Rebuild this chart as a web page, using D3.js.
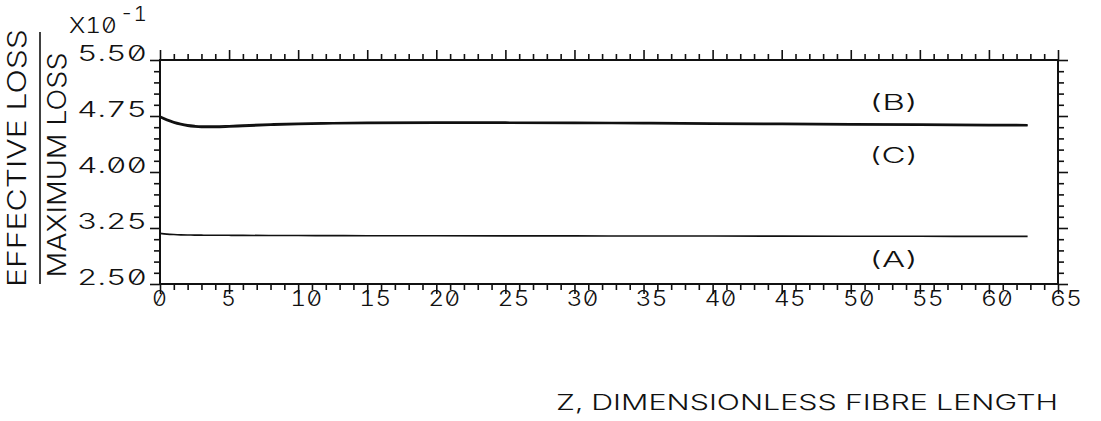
<!DOCTYPE html>
<html>
<head>
<meta charset="utf-8">
<script src="https://cdn.jsdelivr.net/npm/d3@7"></script>
<style>
  html, body { margin: 0; padding: 0; background: #fff; }
  svg { display: block; }
  text { font-family: Inter, "DejaVu Sans", sans-serif; font-feature-settings: "zero" 1, "tnum" 1; fill: #111; font-weight: 300; }
</style>
</head>
<body>
<script>
// ---- data (values in units of 10^-1) ----
const zValues = [0, 0.5, 1, 1.5, 2, 2.5, 3, 4, 5, 6, 8, 10, 12.5, 15, 20, 25, 30, 35, 40, 45, 50, 55, 60, 62.8];
const seriesB = [4.745, 4.705, 4.672, 4.648, 4.630, 4.620, 4.614, 4.613, 4.619, 4.627, 4.641, 4.652, 4.659, 4.663, 4.666, 4.666, 4.664, 4.660, 4.655, 4.650, 4.645, 4.640, 4.635, 4.632];
const seriesC = [4.735, 4.692, 4.658, 4.633, 4.615, 4.604, 4.599, 4.598, 4.604, 4.612, 4.627, 4.639, 4.647, 4.651, 4.654, 4.654, 4.652, 4.648, 4.643, 4.638, 4.633, 4.628, 4.623, 4.620];
const seriesA = [3.178, 3.168, 3.162, 3.158, 3.156, 3.155, 3.154, 3.153, 3.152, 3.151, 3.150, 3.149, 3.148, 3.147, 3.146, 3.145, 3.144, 3.143, 3.142, 3.141, 3.140, 3.139, 3.138, 3.138];
const curveLabels = ["(B)", "(C)", "(A)"];
const curveLabelZ = [53.1, 53.1, 53.1];
const curveLabelY = [4.83, 4.12, 2.73];
const xTickValues = [0, 5, 10, 15, 20, 25, 30, 35, 40, 45, 50, 55, 60, 65];
const yTickValues = [2.50, 3.25, 4.00, 4.75, 5.50];
const yTickLabels = ["2.50", "3.25", "4.00", "4.75", "5.50"];
const yTitleTop = "EFFECTIVE LOSS";
const yTitleBottom = "MAXIMUM LOSS";
const xTitle = "Z, DIMENSIONLESS FIBRE LENGTH";
const scaleText = "X10";
const scaleExp = "-1";

// ---- layout ----
const W = 1101, H = 421;
const L = 160, R = 1058, T = 60, B = 284;

const svg = d3.select("body").append("svg").attr("width", W).attr("height", H);
svg.append("rect").attr("width", W).attr("height", H).attr("fill", "#fff");

const x = d3.scaleLinear().domain([0, 65]).range([L, R]);
const y = d3.scaleLinear().domain([2.5, 5.5]).range([B, T]);

const xMinor = d3.range(0, 66, 1).filter(v => v % 5 !== 0);
const yMinor = d3.range(0, 21).filter(i => i % 5 !== 0).map(i => 2.5 + i * 0.15);

function stretch(sel, total) {
  sel.attr("textLength", total).attr("lengthAdjust", "spacingAndGlyphs");
}

function axisStyle(g) {
  g.select(".domain").remove();
  g.selectAll(".tick line").attr("stroke", "#111").attr("stroke-width", 1.6);
}

// minor + major ticks on all four sides
svg.append("g").attr("transform", `translate(0,${B})`)
  .call(d3.axisBottom(x).tickValues(xMinor).tickSize(6).tickFormat("")).call(axisStyle);
svg.append("g").attr("transform", `translate(0,${T})`)
  .call(d3.axisTop(x).tickValues(xMinor).tickSize(6).tickFormat("")).call(axisStyle);
svg.append("g").attr("transform", `translate(0,${T})`)
  .call(d3.axisTop(x).tickValues(xTickValues).tickSize(10).tickFormat("")).call(axisStyle);
svg.append("g").attr("transform", `translate(${L},0)`)
  .call(d3.axisLeft(y).tickValues(yMinor).tickSize(6).tickFormat("")).call(axisStyle);
svg.append("g").attr("transform", `translate(${R},0)`)
  .call(d3.axisRight(y).tickValues(yMinor).tickSize(6).tickFormat("")).call(axisStyle);
svg.append("g").attr("transform", `translate(${R},0)`)
  .call(d3.axisRight(y).tickValues(yTickValues).tickSize(10).tickFormat("")).call(axisStyle);

// bottom axis with labels
const gx = svg.append("g").attr("transform", `translate(0,${B})`)
  .call(d3.axisBottom(x).tickValues(xTickValues).tickSize(10).tickFormat(d => String(d)));
axisStyle(gx);
gx.selectAll(".tick text")
  .attr("font-size", 22).attr("text-anchor", "start")
  .attr("x", -8.5).attr("y", 22).attr("dy", 0)
  .attr("font-family", null).attr("fill", "#111")
  .each(function () { const t = d3.select(this); stretch(t, t.text().length * 17 - 2); });

// left axis with labels
const gy = svg.append("g").attr("transform", `translate(${L},0)`)
  .call(d3.axisLeft(y).tickValues(yTickValues).tickSize(10).tickFormat((d, i) => yTickLabels[i]));
axisStyle(gy);
gy.selectAll(".tick text")
  .attr("font-size", 22).attr("text-anchor", "end")
  .attr("x", -13).attr("y", 0).attr("dy", 0)
  .attr("font-family", null).attr("fill", "#111")
  .each(function () { const t = d3.select(this); stretch(t, t.text().length * 17.5); });

// frame
svg.append("rect").attr("x", L).attr("y", T).attr("width", R - L).attr("height", B - T)
  .attr("fill", "none").attr("stroke", "#111").attr("stroke-width", 2);

// lines
const line = d3.line().x((d, i) => x(zValues[i])).y(d => y(d)).curve(d3.curveMonotoneX);
[[seriesB, 1.8], [seriesC, 1.8], [seriesA, 1.6]].forEach(([s, w]) => {
  svg.append("path").datum(s).attr("d", line)
    .attr("fill", "none").attr("stroke", "#111").attr("stroke-width", w);
});

// curve labels
curveLabels.forEach((lab, i) => {
  svg.append("text").attr("x", x(curveLabelZ[i])).attr("y", y(curveLabelY[i]))
    .attr("text-anchor", "middle").attr("font-size", 21).text(lab)
    .call(stretch, 50);
});

// scale factor
svg.append("text").attr("x", 69).attr("y", 33).attr("font-size", 22).text(scaleText).call(stretch, 48);
svg.append("text").attr("x", 120).attr("y", 21).attr("font-size", 20).text(scaleExp).call(stretch, 27);

// y title (fraction)
svg.append("text").attr("transform", "translate(26,158) rotate(-90)")
  .attr("text-anchor", "middle").attr("font-size", 25).text(yTitleTop).call(stretch, 258);
svg.append("line").attr("x1", 40).attr("x2", 40).attr("y1", 32).attr("y2", 284)
  .attr("stroke", "#111").attr("stroke-width", 1.6);
svg.append("text").attr("transform", "translate(66,165) rotate(-90)")
  .attr("text-anchor", "middle").attr("font-size", 25).text(yTitleBottom).call(stretch, 225);

// x title
svg.append("text").attr("x", 556).attr("y", 410).attr("font-size", 21).text(xTitle).call(stretch, 502);
</script>
</body>
</html>
